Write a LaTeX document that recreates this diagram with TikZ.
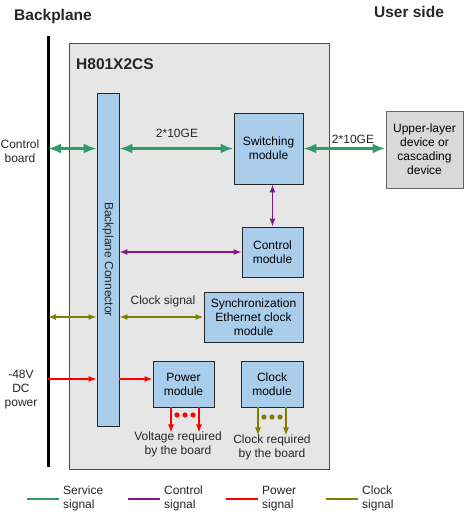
\documentclass[tikz,border=0pt]{standalone}
\usepackage{fontspec}
\setmainfont{Liberation Sans}
\usepackage{tikz}
\usetikzlibrary{arrows.meta,positioning}

\definecolor{servicec}{RGB}{46,155,105}
\definecolor{controlc}{RGB}{136,20,140}
\definecolor{powerc}{RGB}{255,0,0}
\definecolor{clockc}{RGB}{128,128,0}
\definecolor{modfill}{RGB}{169,205,235}
\definecolor{boardfill}{RGB}{230,230,230}
\definecolor{devfill}{RGB}{217,217,217}

\tikzset{
  module/.style={draw=black!85, fill=modfill, line width=0.9pt, inner sep=0pt, align=center},
  lbl/.style={inner sep=0pt, align=center, text=black!85},
  service/.style={draw=servicec, line width=2.6pt, {Latex[length=13pt,width=10pt]}-{Latex[length=13pt,width=10pt]}},
  control/.style={draw=controlc, line width=1.2pt, {Latex[length=8pt,width=6pt]}-{Latex[length=8pt,width=6pt]}},
  power/.style={draw=powerc, line width=1.2pt, -{Latex[length=8pt,width=6pt]}},
  clock/.style={draw=clockc, line width=1.4pt, {Latex[length=8pt,width=6pt]}-{Latex[length=8pt,width=6pt]}},
  clockdown/.style={draw=clockc, line width=1.4pt, -{Latex[length=8pt,width=6pt]}},
}

\begin{document}
\begin{tikzpicture}[x=1pt, y=-1pt, font=\fontsize{12}{14}\selectfont]
  \useasboundingbox (0,0) rectangle (464,514);

  % backplane and board
  \coordinate (bptop) at (48,36);
  \coordinate (bpbot) at (48,467);
  \draw[line width=3pt] (bptop) -- (bpbot);
  \draw[draw=black!70, fill=boardfill, line width=1pt] (69,43) rectangle (329,469);
  \node[lbl, font=\fontsize{15.5}{18}\selectfont\bfseries] (bptitle) at (53,16) {Backplane};
  \node[lbl, font=\fontsize{15.5}{18}\selectfont\bfseries] (usertitle) at (409,12) {User side};
  \node[lbl, anchor=west, font=\fontsize{15.5}{18}\selectfont\bfseries] (boardname) at (76,64) {H801X2CS};

  % modules
  \node[module, minimum width=22pt, minimum height=333pt] (conn) at (108,259.5) {};
  \node[lbl, rotate=-90] (connlabel) at (conn.center) {Backplane Connector};
  \node[module, minimum width=69pt, minimum height=71pt] (switch) at (268.5,148.5) {Switching\\module};
  \node[module, minimum width=61pt, minimum height=50pt] (ctrl) at (272.5,252) {Control\\module};
  \node[module, minimum width=99pt, minimum height=50pt] (sync) at (253.5,317) {Synchronization\\Ethernet clock\\module};
  \node[module, minimum width=61pt, minimum height=46pt] (power) at (183.5,384) {Power\\module};
  \node[module, minimum width=62pt, minimum height=46pt] (clk) at (272,384) {Clock\\module};
  \node[draw=black!60, fill=devfill, line width=1pt, inner sep=0pt, align=center,
        minimum width=77pt, minimum height=77pt] (upper) at (424.5,149.5)
        {Upper-layer\\device or\\cascading\\device};

  % outside labels
  \node[lbl] (ctrlboard) at (20,151) {Control\\board};
  \node[lbl] (dcpower) at (21,390) {-48V\\DC\\power};
  \node[lbl] (ge1) at (177,133) {2*10GE};
  \node[lbl] (ge2) at (353,139) {2*10GE};
  \node[lbl] (clksig) at (163,301) {Clock signal};
  \node[lbl] (voltreq) at (178,444) {Voltage required\\by the board};
  \node[lbl] (clkreq) at (272,447) {Clock required\\by the board};

  % signals
  \draw[service] (bptop |- switch.west) -- (conn.west |- switch.west);
  \draw[service] (conn.east |- switch.west) -- (switch.west);
  \draw[service] (switch.east) -- (upper.west |- switch.east);
  \draw[control] (switch.south -| ctrl.north) -- (ctrl.north);
  \draw[control] (conn.east |- ctrl.west) -- (ctrl.west);
  \draw[clock] (bptop |- sync.west) -- (conn.west |- sync.west);
  \draw[clock] (conn.east |- sync.west) -- (sync.west);
  \draw[power] (bptop |- 0,379) -- (conn.west |- 0,379);
  \draw[power] (conn.east |- 0,379) -- (power.west |- 0,379);

  \draw[power] ([xshift=-12.5pt]power.south) -- ++(0,25);
  \draw[power] ([xshift=15.5pt]power.south) -- ++(0,25);
  \draw[clockdown] ([xshift=-14pt]clk.south) -- ++(0,28);
  \draw[clockdown] ([xshift=14pt]clk.south) -- ++(0,28);
  \foreach \dx in {-8,0,8} {
    \fill[powerc] (185+\dx,415) circle (2.6pt);
    \fill[clockc] (272+\dx,417) circle (2.6pt);
  }

  % legend
  \foreach \x/\col/\name in {27/servicec/Service, 128/controlc/Control, 226/powerc/Power, 326/clockc/Clock} {
    \draw[\col, line width=1.5pt] (\x,499) -- (\x+32,499);
    \node[lbl, anchor=west, align=left] at (\x+36,498.5) {\name\\signal};
  }
\end{tikzpicture}
\end{document}
